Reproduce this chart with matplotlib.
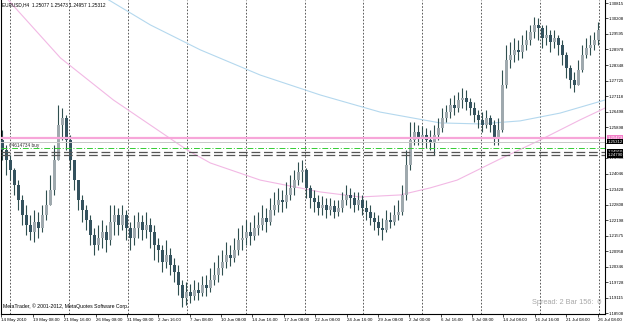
import matplotlib
matplotlib.use('Agg')
import matplotlib.pyplot as plt
import numpy as np

plt.rcParams['font.family'] = ['Liberation Sans', 'DejaVu Sans']

# EURUSD H4, 14 May 2010 - 26 Jul 2010 (one candle ~ 8h)
first_open = 1.2538
closes = [1.2498, 1.2459, 1.2419, 1.2360, 1.2300, 1.2240, 1.2201, 1.2173, 1.2213, 1.2189,
          1.2240, 1.2280, 1.2340, 1.2459, 1.2598, 1.2626, 1.2538, 1.2459, 1.2379, 1.2300,
          1.2260, 1.2221, 1.2161, 1.2121, 1.2149, 1.2173, 1.2141, 1.2213, 1.2240, 1.2201,
          1.2240, 1.2189, 1.2149, 1.2189, 1.2213, 1.2181, 1.2201, 1.2173, 1.2121, 1.2101,
          1.2054, 1.2082, 1.2042, 1.2014, 1.1962, 1.1911, 1.1935, 1.1919, 1.1943, 1.1931,
          1.1962, 1.1951, 1.1982, 1.2002, 1.2030, 1.2054, 1.2082, 1.2070, 1.2101, 1.2141,
          1.2149, 1.2173, 1.2157, 1.2189, 1.2201, 1.2229, 1.2213, 1.2260, 1.2280, 1.2300,
          1.2292, 1.2320, 1.2348, 1.2379, 1.2411, 1.2419, 1.2348, 1.2308, 1.2292, 1.2268,
          1.2280, 1.2260, 1.2276, 1.2252, 1.2268, 1.2300, 1.2320, 1.2308, 1.2280, 1.2300,
          1.2268, 1.2252, 1.2229, 1.2213, 1.2189, 1.2181, 1.2221, 1.2213, 1.2240, 1.2252,
          1.2320, 1.2439, 1.2538, 1.2570, 1.2546, 1.2558, 1.2538, 1.2530, 1.2558, 1.2586,
          1.2626, 1.2649, 1.2677, 1.2665, 1.2697, 1.2705, 1.2689, 1.2665, 1.2637, 1.2618,
          1.2598, 1.2626, 1.2598, 1.2546, 1.2578, 1.2757, 1.2856, 1.2876, 1.2896, 1.2888,
          1.2915, 1.2935, 1.2967, 1.2995, 1.2983, 1.2943, 1.2955, 1.2927, 1.2943, 1.2915,
          1.2876, 1.2824, 1.2776, 1.2757, 1.2816, 1.2876, 1.2903, 1.2915, 1.2935, 1.2975]
highs = [1.2578, 1.2518, 1.2479, 1.2427, 1.2379, 1.2320, 1.2280, 1.2240, 1.2260, 1.2252,
         1.2280, 1.2340, 1.2399, 1.2518, 1.2677, 1.2665, 1.2637, 1.2558, 1.2459, 1.2379,
         1.2320, 1.2280, 1.2240, 1.2189, 1.2201, 1.2221, 1.2201, 1.2280, 1.2280, 1.2268,
         1.2280, 1.2260, 1.2213, 1.2240, 1.2252, 1.2240, 1.2252, 1.2229, 1.2201, 1.2149,
         1.2121, 1.2141, 1.2109, 1.2070, 1.2042, 1.1982, 1.1974, 1.1966, 1.1982, 1.1974,
         1.1998, 1.2002, 1.2030, 1.2054, 1.2082, 1.2101, 1.2133, 1.2121, 1.2149, 1.2189,
         1.2201, 1.2221, 1.2213, 1.2240, 1.2252, 1.2280, 1.2268, 1.2308, 1.2332, 1.2348,
         1.2340, 1.2371, 1.2399, 1.2419, 1.2451, 1.2459, 1.2427, 1.2360, 1.2340, 1.2320,
         1.2316, 1.2308, 1.2308, 1.2300, 1.2300, 1.2332, 1.2360, 1.2348, 1.2332, 1.2332,
         1.2320, 1.2300, 1.2280, 1.2252, 1.2240, 1.2229, 1.2260, 1.2252, 1.2280, 1.2300,
         1.2360, 1.2498, 1.2610, 1.2610, 1.2598, 1.2594, 1.2586, 1.2578, 1.2598, 1.2626,
         1.2665, 1.2677, 1.2705, 1.2717, 1.2729, 1.2745, 1.2737, 1.2705, 1.2689, 1.2657,
         1.2649, 1.2657, 1.2637, 1.2618, 1.2626, 1.2816, 1.2915, 1.2927, 1.2943, 1.2935,
         1.2955, 1.2975, 1.2995, 1.3027, 1.3023, 1.2995, 1.2995, 1.2975, 1.2975, 1.2955,
         1.2935, 1.2888, 1.2836, 1.2808, 1.2856, 1.2915, 1.2943, 1.2955, 1.2967, 1.3007]
lows = [1.2459, 1.2399, 1.2379, 1.2320, 1.2260, 1.2201, 1.2161, 1.2141, 1.2133, 1.2149,
        1.2173, 1.2221, 1.2280, 1.2320, 1.2459, 1.2538, 1.2498, 1.2419, 1.2340, 1.2260,
        1.2213, 1.2181, 1.2121, 1.2082, 1.2101, 1.2109, 1.2094, 1.2121, 1.2161, 1.2161,
        1.2181, 1.2141, 1.2101, 1.2121, 1.2149, 1.2141, 1.2149, 1.2109, 1.2062, 1.2054,
        1.2014, 1.2030, 1.2002, 1.1974, 1.1923, 1.1875, 1.1883, 1.1891, 1.1903, 1.1903,
        1.1919, 1.1919, 1.1935, 1.1962, 1.1974, 1.2002, 1.2030, 1.2038, 1.2054, 1.2082,
        1.2101, 1.2121, 1.2121, 1.2141, 1.2161, 1.2181, 1.2173, 1.2201, 1.2240, 1.2252,
        1.2252, 1.2268, 1.2300, 1.2320, 1.2360, 1.2371, 1.2308, 1.2268, 1.2252, 1.2240,
        1.2240, 1.2229, 1.2240, 1.2229, 1.2236, 1.2252, 1.2280, 1.2268, 1.2252, 1.2260,
        1.2240, 1.2221, 1.2201, 1.2181, 1.2161, 1.2141, 1.2173, 1.2189, 1.2201, 1.2221,
        1.2240, 1.2300, 1.2419, 1.2518, 1.2518, 1.2518, 1.2506, 1.2498, 1.2479, 1.2538,
        1.2570, 1.2610, 1.2626, 1.2637, 1.2649, 1.2665, 1.2657, 1.2637, 1.2610, 1.2586,
        1.2570, 1.2586, 1.2570, 1.2518, 1.2518, 1.2570, 1.2745, 1.2824, 1.2848, 1.2856,
        1.2864, 1.2896, 1.2915, 1.2943, 1.2935, 1.2903, 1.2915, 1.2888, 1.2903, 1.2876,
        1.2836, 1.2784, 1.2745, 1.2729, 1.2757, 1.2808, 1.2864, 1.2876, 1.2896, 1.2915]

# moving averages (knots: candle index, price)
ma_blue_x = [24.5, 37, 49.5, 64.5, 79.5, 94.5, 109.5, 119.5, 129.5, 139.5, 150.75]
ma_blue = [1.3114, 1.2995, 1.2896, 1.2796, 1.2717, 1.2649, 1.2606, 1.2602, 1.2614, 1.2645, 1.2697]
ma_pink_x = [0.75, 14.5, 27.75, 46.25, 52, 64.5, 79.5, 89.5, 99.5, 107, 113.75, 124.5, 134.5, 144.5, 150.75]
ma_pink = [1.3106, 1.2864, 1.2697, 1.2498, 1.2447, 1.2379, 1.2332, 1.2312, 1.2320, 1.2348,
           1.2379, 1.2463, 1.2538, 1.2618, 1.2665]

level_pink = 1.25473
level_bid = 1.25312
level_order = 1.25077
level_stops = [1.24910, 1.24790]

price_ticks = [1.30815, 1.30208, 1.29595, 1.28978, 1.28348, 1.27725, 1.27118, 1.26498,
               1.25898, 1.25268, 1.24668, 1.24046, 1.23428, 1.22808, 1.22198, 1.21575,
               1.20958, 1.20346, 1.19728, 1.19115, 1.18508]
time_labels = ['14 May 2010', '19 May 08:00', '21 May 16:00', '26 May 08:00', '31 May 08:00',
               '2 Jun 16:00', '7 Jun 08:00', '10 Jun 08:00', '14 Jun 16:00', '17 Jun 08:00',
               '22 Jun 08:00', '24 Jun 16:00', '29 Jun 08:00', '2 Jul 00:00', '6 Jul 16:00',
               '9 Jul 08:00', '14 Jul 08:00', '16 Jul 16:00', '21 Jul 08:00', '26 Jul 08:00']

header = 'EURUSD,H4  1.25077 1.25473 1.24957 1.25312'
order_text = '#4614734 buy'
copyright_text = 'MetaTrader, \u00a9 2001-2012, MetaQuotes Software Corp.'
status_text = 'Spread: 2 Bar 156:  0'
narrow = ['Liberation Sans Narrow', 'Liberation Sans', 'DejaVu Sans']

W, H = 625, 326
fig = plt.figure(figsize=(W / 100, H / 100), dpi=100)
fig.patch.set_facecolor('white')
ax = fig.add_axes([0.5 / W, 12 / H, 604.5 / W, 314 / H])
ax.set_xlim(-0.5, 150.75)
ax.set_ylim(1.18474, 1.3094)

# vertical grid
grid_x = (7.3 + 59 * np.arange(11)) / 4
for g in grid_x:
    ax.axvline(g, color='#404040', lw=0.6, ls=(0, (2, 2)), zorder=0.5)

# moving averages
ax.plot(ma_blue_x, ma_blue, color='#b4d8ee', lw=0.8, zorder=1)
ax.plot(ma_pink_x, ma_pink, color='#f2b8e4', lw=0.8, zorder=1)

# candles
opens = [first_open] + closes[:-1]
idx = np.arange(len(closes))
o = np.array(opens)
c = np.array(closes)
up = c >= o
ax.vlines(idx, lows, highs, color='#2f4f4f', lw=0.8, zorder=2)
ax.bar(idx[up], (c - o)[up], bottom=o[up], width=0.75, color='#9fa9ae', zorder=3)
ax.bar(idx[~up], (o - c)[~up], bottom=c[~up], width=0.75, color='#34525e', zorder=3)

# horizontal levels
ax.axhline(level_pink, color='#f7a6d9', lw=1.6, zorder=4)
ax.axhline(level_bid, color='#c8c8c8', lw=0.7, zorder=4)
ax.axhline(level_order, color='#33cc33', lw=0.7, ls=(0, (6, 2, 1, 2)), zorder=4)
for lv in level_stops:
    ax.axhline(lv, color='#555555', lw=0.9, ls=(0, (7, 3)), zorder=4)

# axes styling
ax.spines['top'].set_visible(False)
for s in ['left', 'right', 'bottom']:
    ax.spines[s].set_color('black')
    ax.spines[s].set_linewidth(0.8)
ax.yaxis.tick_right()
ax.set_yticks(price_ticks)
ax.set_yticklabels(['%.5f' % p for p in price_ticks], fontsize=3.1, family=narrow)
tick_x = (1 + 31.4 * np.arange(len(time_labels)) - 2) / 4
ax.set_xticks(tick_x)
ax.set_xticklabels(time_labels, fontsize=3.2, ha='left')
ax.tick_params(axis='y', length=2, width=0.5, pad=0.8, colors='black')
ax.tick_params(axis='x', length=2, width=0.5, pad=1.2, colors='black')

# price boxes on the right axis
yt = ax.get_yaxis_transform()
boxes = [(level_pink, '#f27fc8'), (level_bid, 'black')] + [(lv, 'black') for lv in level_stops]
for lv, col in boxes:
    ax.text(1.004, lv, '%.5f' % lv, transform=yt, fontsize=3.1, family=narrow, color='white',
            va='center', ha='left', clip_on=False, zorder=10,
            bbox=dict(boxstyle='square,pad=0.15', facecolor=col, edgecolor='none'))

# texts
ax.text(7 / 4, level_order, order_text, fontsize=3.4, color='#333333', va='bottom', ha='left')
fig.text(2 / W, 1 - 5 / H, header, fontsize=3.4, va='center', ha='left')
fig.text(3 / W, 1 - 306 / H, copyright_text, fontsize=3.7, va='center', ha='left')
fig.text(601 / W, 1 - 303 / H, status_text, fontsize=5.3, color='#a8a8a8', va='center', ha='right')

fig.savefig('out.png', dpi=100, facecolor='white')
